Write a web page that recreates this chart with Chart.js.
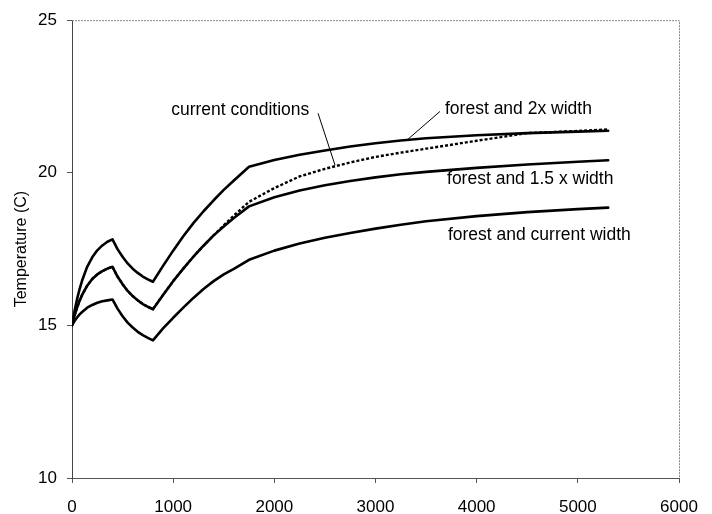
<!DOCTYPE html>
<html>
<head>
<meta charset="utf-8">
<script src="https://cdn.jsdelivr.net/npm/chart.js@4/dist/chart.umd.min.js"></script>
<style>
  html, body { margin: 0; padding: 0; background: #ffffff; }
  #wrap { width: 712px; height: 514px; }
</style>
</head>
<body>
<div id="wrap"><canvas id="c" width="712" height="514"></canvas></div>
<script>
// Distance downstream and stream temperature for four riparian scenarios
const distance = [0, 10, 25, 50, 75, 100, 150, 200, 250, 300, 350, 400, 450, 500, 550, 600, 650, 700, 750, 800,
                  900, 1000, 1100, 1200, 1300, 1400, 1500, 1600, 1750, 2000, 2250, 2500, 2750, 3000, 3250, 3500,
                  4000, 4500, 5000, 5300];

const forest2x = [15.0, 15.20, 15.47, 15.86, 16.19, 16.47, 16.92, 17.23, 17.46, 17.62, 17.74, 17.82, 17.50, 17.25, 17.03, 16.86, 16.72, 16.60, 16.51, 16.43,
                  16.95, 17.45, 17.92, 18.35, 18.74, 19.10, 19.44, 19.75, 20.20, 20.42, 20.59, 20.73, 20.86, 20.97, 21.06, 21.13,
                  21.23, 21.30, 21.35, 21.38];

const forest15x = [15.0, 15.13, 15.32, 15.58, 15.81, 16.00, 16.30, 16.52, 16.67, 16.78, 16.86, 16.92, 16.60, 16.35, 16.13, 15.96, 15.82, 15.70, 15.61, 15.53,
                   16.00, 16.45, 16.86, 17.25, 17.61, 17.95, 18.24, 18.52, 18.90, 19.20, 19.42, 19.59, 19.73, 19.85, 19.95, 20.03,
                   20.16, 20.27, 20.36, 20.41];

const forestCurrent = [15.0, 15.06, 15.14, 15.26, 15.36, 15.44, 15.58, 15.67, 15.74, 15.79, 15.82, 15.85, 15.55, 15.30, 15.09, 14.93, 14.79, 14.68, 14.59, 14.51,
                       14.90, 15.25, 15.58, 15.90, 16.19, 16.45, 16.67, 16.85, 17.15, 17.45, 17.68, 17.87, 18.03, 18.17, 18.30, 18.41,
                       18.58, 18.71, 18.81, 18.86];

const currentConditions = [15.0, 15.13, 15.32, 15.58, 15.81, 16.00, 16.30, 16.52, 16.67, 16.78, 16.86, 16.92, 16.60, 16.35, 16.13, 15.96, 15.82, 15.70, 15.61, 15.53,
                           16.00, 16.45, 16.86, 17.25, 17.61, 17.95, 18.28, 18.60, 19.05, 19.50, 19.88, 20.13, 20.34, 20.52, 20.66, 20.79,
                           21.05, 21.30, 21.37, 21.42];

const xTicks = [0, 1000, 2000, 3000, 4000, 5000, 6000];
const yTicks = [10, 15, 20, 25];

// Curve labels (left edge, vertical middle) in data units
const labelText = ['current conditions', 'forest and 2x width', 'forest and 1.5 x width', 'forest and current width'];
const labelX = [980, 3687, 3707, 3716];
const labelY = [22.05, 22.08, 19.78, 17.94];

// Leader lines from label to curve, in data units
const leaderFromX = [2432, 3637];
const leaderFromY = [21.95, 22.01];
const leaderToX = [2600, 3321];
const leaderToY = [20.25, 21.10];

const FONT = '"Liberation Sans", Arial, sans-serif';

function toPoints(ys) { return distance.map((x, i) => ({ x: x, y: ys[i] })); }

const curveLabels = {
  id: 'curveLabels',
  afterDatasetsDraw(chart) {
    const { ctx, scales: { x, y } } = chart;
    ctx.save();
    ctx.strokeStyle = '#000';
    ctx.lineWidth = 1;
    for (let i = 0; i < leaderFromX.length; i++) {
      ctx.beginPath();
      ctx.moveTo(x.getPixelForValue(leaderFromX[i]), y.getPixelForValue(leaderFromY[i]));
      ctx.lineTo(x.getPixelForValue(leaderToX[i]), y.getPixelForValue(leaderToY[i]));
      ctx.stroke();
    }
    ctx.fillStyle = '#000';
    ctx.font = '17.5px ' + FONT;
    ctx.textAlign = 'left';
    ctx.textBaseline = 'middle';
    for (let i = 0; i < labelText.length; i++) {
      ctx.fillText(labelText[i], x.getPixelForValue(labelX[i]), y.getPixelForValue(labelY[i]));
    }
    ctx.restore();
  }
};

// Dotted top and right edges of the plot frame
const frame = {
  id: 'frame',
  beforeDatasetsDraw(chart) {
    const { ctx, chartArea: a } = chart;
    ctx.save();
    ctx.strokeStyle = '#888';
    ctx.lineWidth = 1;
    ctx.setLineDash([2, 1]);
    ctx.beginPath();
    ctx.moveTo(a.left, a.top + 0.5);
    ctx.lineTo(a.right + 0.5, a.top + 0.5);
    ctx.lineTo(a.right + 0.5, a.bottom);
    ctx.stroke();
    ctx.restore();
  }
};

const lineStyle = { borderColor: '#000', borderWidth: 2.6, pointRadius: 0, tension: 0, fill: false,
                    borderJoinStyle: 'round', borderCapStyle: 'round' };

new Chart(document.getElementById('c'), {
  type: 'line',
  data: {
    datasets: [
      Object.assign({ label: 'forest and 2x width', data: toPoints(forest2x) }, lineStyle),
      Object.assign({ label: 'forest and 1.5 x width', data: toPoints(forest15x) }, lineStyle),
      Object.assign({ label: 'forest and current width', data: toPoints(forestCurrent) }, lineStyle),
      Object.assign({ label: 'current conditions', data: toPoints(currentConditions) }, lineStyle,
                    { borderDash: [3, 2], borderWidth: 2.4, borderCapStyle: 'butt' })
    ]
  },
  options: {
    responsive: false,
    animation: false,
    layout: { padding: { top: 16, right: 33, left: 0, bottom: 0 } },
    plugins: { legend: { display: false }, tooltip: { enabled: false } },
    scales: {
      x: {
        type: 'linear',
        min: 0,
        max: 6000,
        afterBuildTicks(s) { s.ticks = xTicks.map(v => ({ value: v })); },
        afterFit(s) { s.height = 36; },
        grid: { drawOnChartArea: false, drawTicks: true, tickLength: 5, color: '#555' },
        border: { display: true, color: '#555', width: 1 },
        ticks: { color: '#000', padding: 14, maxRotation: 0, font: { family: FONT, size: 17 },
                 callback: v => String(v) }
      },
      y: {
        type: 'linear',
        min: 10,
        max: 25,
        afterBuildTicks(s) { s.ticks = yTicks.map(v => ({ value: v })); },
        afterFit(s) { s.width = 72; },
        grid: { drawOnChartArea: false, drawTicks: true, tickLength: 5, color: '#555' },
        border: { display: true, color: '#444', width: 1 },
        ticks: { color: '#000', padding: 10, font: { family: FONT, size: 17 } },
        title: { display: true, text: 'Temperature (C)', color: '#000', padding: { top: 12, bottom: 0 },
                 font: { family: FONT, size: 16 } }
      }
    }
  },
  plugins: [frame, curveLabels]
});
</script>
</body>
</html>
